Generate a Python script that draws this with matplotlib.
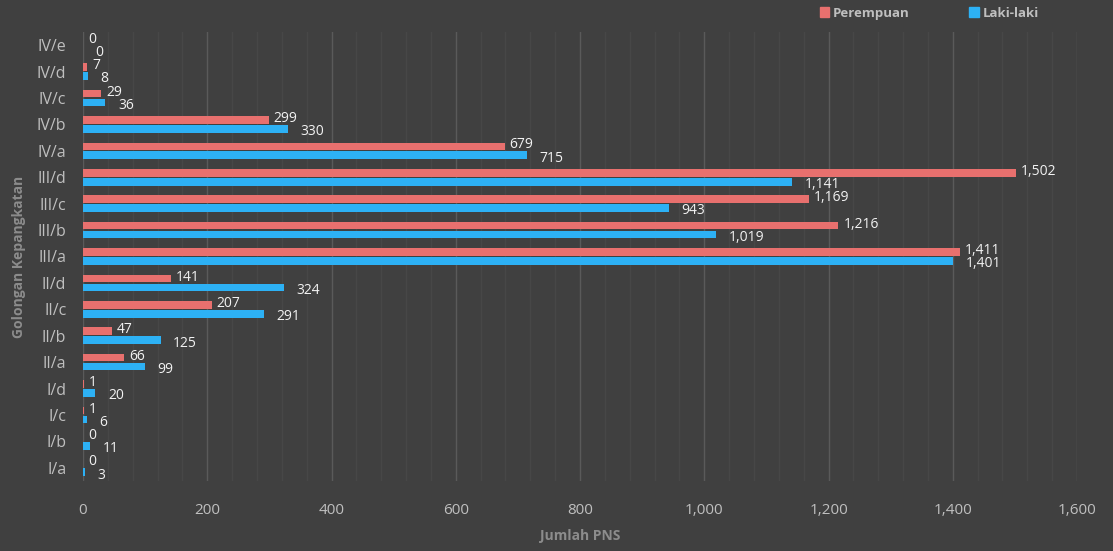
import numpy as np
import matplotlib
matplotlib.use("Agg")
import matplotlib.pyplot as plt
from matplotlib.patches import Patch
from matplotlib.ticker import MultipleLocator, FuncFormatter

# data
golongan = ["I/a", "I/b", "I/c", "I/d", "II/a", "II/b", "II/c", "II/d",
            "III/a", "III/b", "III/c", "III/d", "IV/a", "IV/b", "IV/c", "IV/d", "IV/e"]
perempuan = [0, 0, 1, 1, 66, 47, 207, 141, 1411, 1216, 1169, 1502, 679, 299, 29, 7, 0]
laki_laki = [3, 11, 6, 20, 99, 125, 291, 324, 1401, 1019, 943, 1141, 715, 330, 36, 8, 0]

bg = "#404040"
red = "#E8706E"
blue = "#2DB1F5"

plt.rcParams["font.family"] = ["Open Sans", "DejaVu Sans"]

fig = plt.figure(figsize=(11.13, 5.51), dpi=100, facecolor=bg)
ax = fig.add_axes([0.0746, 0.127, 0.8931, 0.815], facecolor=bg)

y = np.arange(len(golongan))
h = 0.29
ax.barh(y + 0.17, perempuan, height=h, color=red, zorder=3)
ax.barh(y - 0.17, laki_laki, height=h, color=blue, zorder=3)

# data labels
for yi, v in zip(y, perempuan):
    ax.annotate(f"{v:,}", (v, yi + 0.17), xytext=(3.5, 1), textcoords="offset points",
                ha="left", va="center", color="#F2F2F2", fontsize=10)
for yi, v in zip(y, laki_laki):
    ax.annotate(f"{v:,}", (v, yi - 0.17), xytext=(9, -2), textcoords="offset points",
                ha="left", va="center", color="#F2F2F2", fontsize=10)

ax.set_xlim(0, 1600)
ax.set_ylim(-0.5, len(golongan) - 0.5)
ax.set_yticks(y)
ax.set_yticklabels(golongan)
ax.xaxis.set_major_locator(MultipleLocator(200))
ax.xaxis.set_minor_locator(MultipleLocator(40))
ax.xaxis.set_major_formatter(FuncFormatter(lambda x, p: f"{int(x):,}"))
ax.grid(axis="x", which="major", color="#5A5A5A", linewidth=1, zorder=0)
ax.grid(axis="x", which="minor", color="#474747", linewidth=1, zorder=0)
ax.tick_params(axis="x", which="both", length=0, pad=16, labelsize=11, colors="#BFBFBF")
ax.tick_params(axis="y", length=0, pad=12, labelsize=11.5, colors="#BFBFBF")
for s in ax.spines.values():
    s.set_visible(False)

ax.set_xlabel("Jumlah PNS", color="#8C8C8C", fontsize=10, fontweight="bold", labelpad=8)
ax.set_ylabel("Golongan Kepangkatan", color="#8C8C8C", fontsize=10, fontweight="bold", labelpad=8)

handles = [Patch(color=red, label="Perempuan"), Patch(color=blue, label="Laki-laki")]
fig.legend(handles=handles, loc="center", bbox_to_anchor=(0.835, 0.976), ncol=2,
           frameon=False, handlelength=0.7, handleheight=0.7, handletextpad=0.3,
           columnspacing=4.5, labelcolor="#BFBFBF",
           prop={"weight": "bold", "size": 9.5})

fig.savefig("out.png", dpi=100, facecolor=bg)
